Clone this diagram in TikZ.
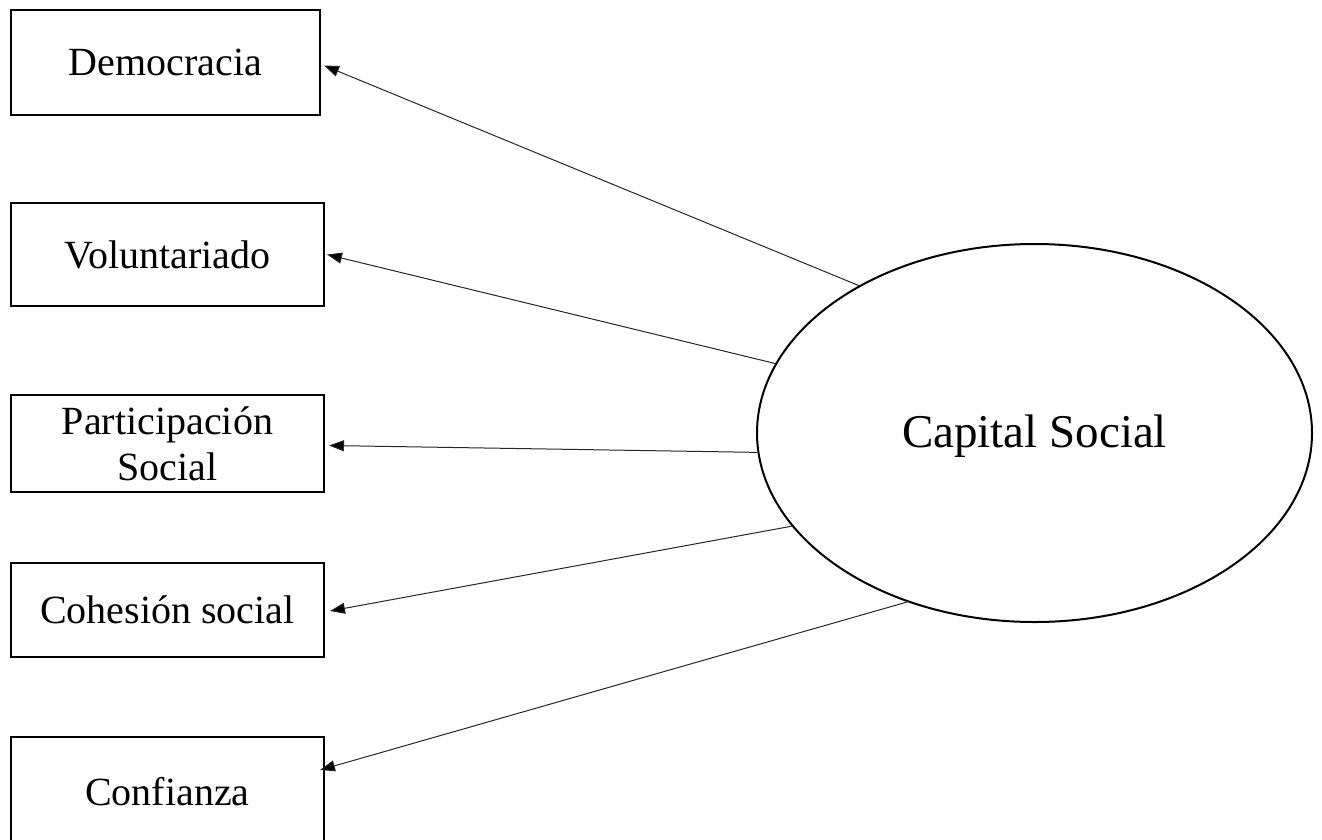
\documentclass[tikz,border=0pt]{standalone}
\usepackage{fontspec}
\setmainfont{Liberation Serif}
\usetikzlibrary{arrows.meta,calc,shapes.geometric}
\begin{document}
\begin{tikzpicture}[x=1pt,y=-1pt,
  box/.style={draw=black,line width=2pt,anchor=north west,inner sep=0pt,align=center,font=\fontsize{40}{46}\selectfont},
  conn/.style={draw=black!85,line width=1pt,-{Triangle[length=15pt,width=11pt,fill=black]}}]
\useasboundingbox (0,0) rectangle (1322,839);
\node[box,minimum width=309pt,minimum height=105pt] (dem) at (10,9) {Democracia};
\node[box,minimum width=313pt,minimum height=103pt] (vol) at (10,202) {Voluntariado};
\node[box,minimum width=313pt,minimum height=97pt] (par) at (10,394) {Participación\\Social};
\node[box,minimum width=313pt,minimum height=94pt] (coh) at (10,562) {Cohesión social};
\node[box,minimum width=313pt,minimum height=109pt] (con) at (10,736) {Confianza};
\node[draw=black,line width=2pt,ellipse,minimum width=555pt,minimum height=378pt,inner sep=0pt,font=\fontsize{47}{54}\selectfont] (cs) at (1034.5,433) {};
\node[font=\fontsize{47}{54}\selectfont] (cst) at (1034.5,436) {Capital Social};
\draw[conn] (cs.140.7) -- ($(dem.east)+(3,3)$);
\draw[conn] (cs.165.3) -- ($(vol.east)+(2,0)$);
\draw[conn] (cs.184.7) -- ($(par.east)+(4,2)$);
\draw[conn] (cs.201.6) -- ($(coh.east)+(5,1)$);
\draw[conn] (cs.233.6) -- ($(con.north east)+(-5,34)$);
\end{tikzpicture}
\end{document}
